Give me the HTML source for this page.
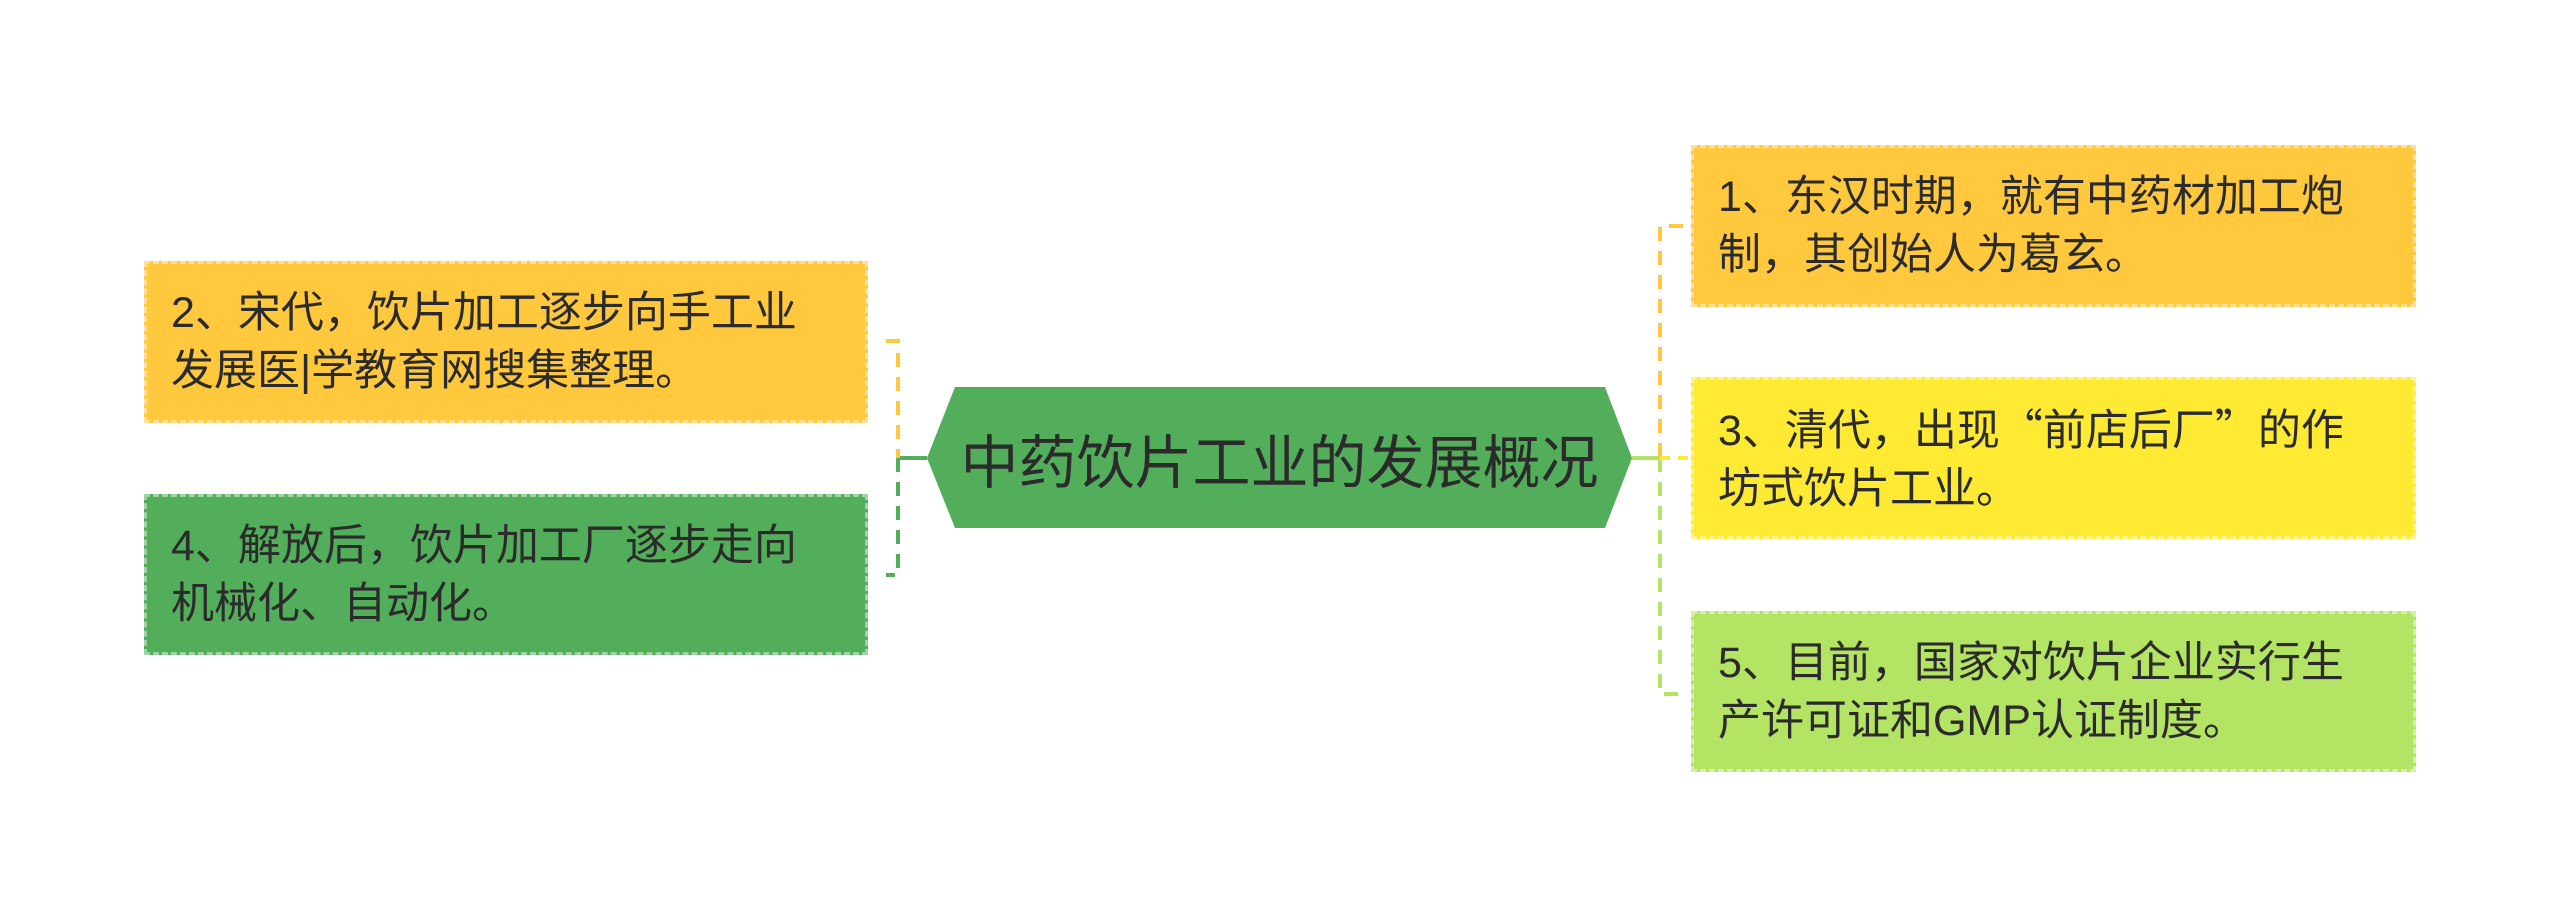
<!DOCTYPE html>
<html><head><meta charset="utf-8"><style>
body{margin:0;width:2560px;height:917px;background:#fff;position:relative;overflow:hidden;font-family:"Liberation Sans","Noto Sans CJK SC",sans-serif;}
.b{position:absolute;box-sizing:border-box;display:flex;align-items:center;padding-left:24px;font-size:43px;line-height:58px;color:#2b2b2b;border:3px dashed rgba(255,255,255,0.45);}
.t{position:absolute;left:927px;top:387px;width:705px;height:141px;display:flex;align-items:center;justify-content:center;font-size:58px;color:#2b2b2b;}
.q{font-family:"Noto Sans CJK SC",sans-serif;}
</style></head><body>
<svg width="2560" height="917" style="position:absolute;left:0;top:0">
<polygon points="927,458 955,387 1605,387 1632,458 1605,528 955,528" fill="#52ae5a"/>
<line x1="898" y1="458" x2="927" y2="458" stroke="#52ae5a" stroke-width="4"/>
<path d="M886,341 H898 V458" fill="none" stroke="#ffc83d" stroke-width="4" stroke-dasharray="14,10"/>
<path d="M898,458 V575 H886" fill="none" stroke="#52ae5a" stroke-width="4" stroke-dasharray="14,10"/>
<line x1="1632" y1="458" x2="1660" y2="458" stroke="#b4e463" stroke-width="4"/>
<path d="M1683,226 H1660 V458" fill="none" stroke="#ffc83d" stroke-width="4" stroke-dasharray="14,10"/>
<path d="M1660,458 V694 H1683" fill="none" stroke="#b4e463" stroke-width="4" stroke-dasharray="14,10"/>
<line x1="1660" y1="458" x2="1691" y2="458" stroke="#ffea33" stroke-width="4" stroke-dasharray="10,8"/>
</svg>
<div class="t">中药饮片工业的发展概况</div>
<div class="b" style="left:144px;top:261px;width:724px;height:162px;background:#ffc83d">2、宋代，饮片加工逐步向手工业<br>发展医|学教育网搜集整理。</div>
<div class="b" style="left:144px;top:494px;width:724px;height:161px;background:#52ae5a">4、解放后，饮片加工厂逐步走向<br>机械化、自动化。</div>
<div class="b" style="left:1691px;top:145px;width:725px;height:162px;background:#ffc83d">1、东汉时期，就有中药材加工炮<br>制，其创始人为葛玄。</div>
<div class="b" style="left:1691px;top:377px;width:725px;height:162px;background:#ffea33"><span>3、清代，出现<span class="q">“</span>前店后厂<span class="q">”</span>的作<br>坊式饮片工业。</span></div>
<div class="b" style="left:1691px;top:611px;width:725px;height:161px;background:#b4e463">5、目前，国家对饮片企业实行生<br>产许可证和GMP认证制度。</div>
</body></html>
